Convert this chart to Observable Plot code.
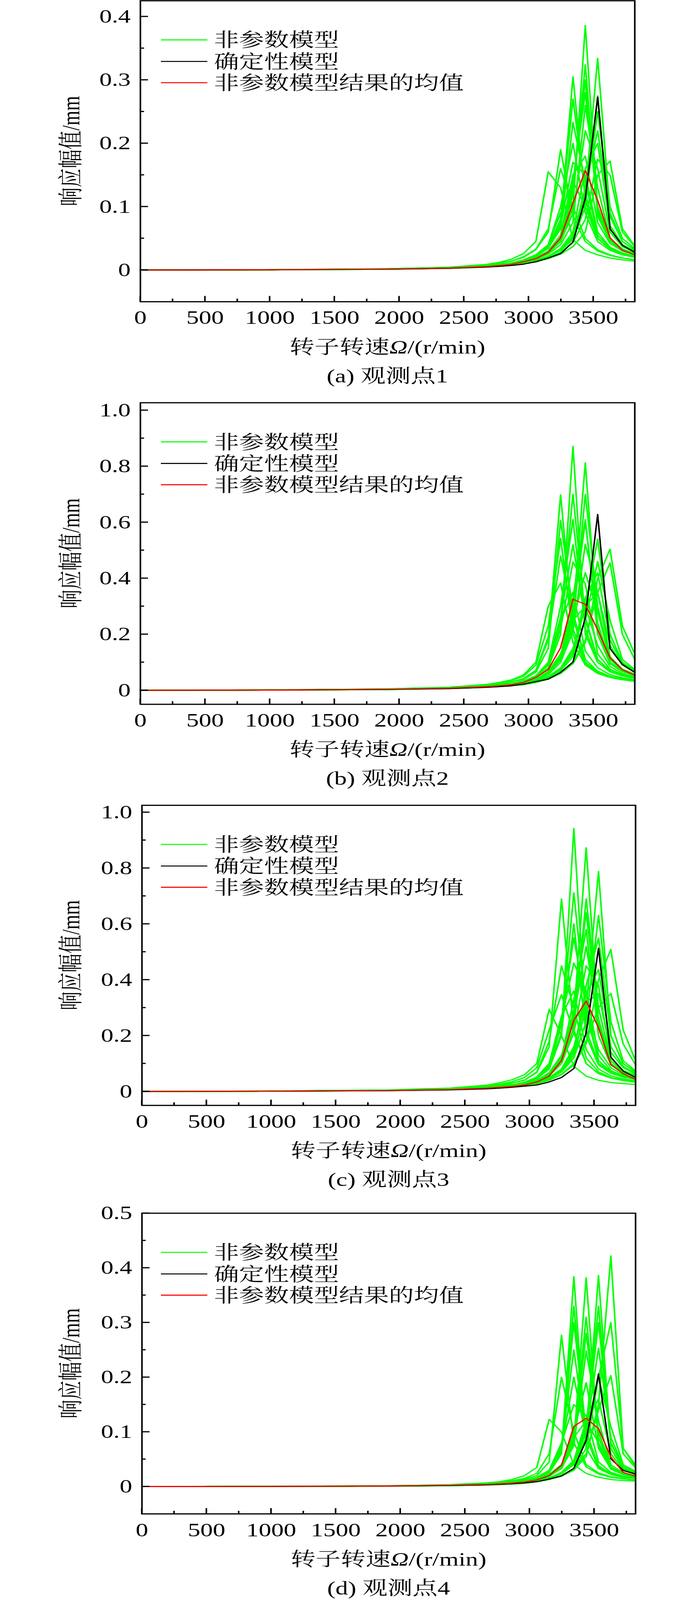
<!DOCTYPE html>
<html>
<head>
<meta charset="utf-8">
<script src="https://cdn.jsdelivr.net/npm/d3@7"></script>
<script src="https://cdn.jsdelivr.net/npm/@observablehq/plot@0.6"></script>
<style>
  html, body { margin: 0; padding: 0; background: #fff; }
  /* the browser viewport is only 4096px tall, so the 5417px-tall figure is fitted vertically */
  #root { position: relative; width: 1772px; height: 5417px; overflow: hidden; background: #fff;
          transform-origin: 0 0; }
</style>
</head>
<body>
<div id="root"></div>
<script>
// ---------- data ----------
// rotor speed samples (r/min)
const rpm = [0, 954.9, 1909.9, 2387.3, 2673.8, 2769.3, 2864.8, 2960.3, 3055.8, 3151.3, 3246.8, 3342.3, 3437.7, 3533.2, 3628.7, 3724.2, 3819.7];

const xMajor = [0, 500, 1000, 1500, 2000, 2500, 3000, 3500];
const xMinor = [250, 750, 1250, 1750, 2250, 2750, 3250, 3750];

const yMajor1 = [0, 0.1, 0.2, 0.3, 0.4];
const yMinor1 = [0.05, 0.15, 0.25, 0.35];
const yMajor2 = [0, 0.2, 0.4, 0.6, 0.8, 1.0];
const yMinor2 = [0.1, 0.3, 0.5, 0.7, 0.9];
const yMajor3 = [0, 0.2, 0.4, 0.6, 0.8, 1.0];
const yMinor3 = [0.1, 0.3, 0.5, 0.7, 0.9];
const yMajor4 = [0, 0.1, 0.2, 0.3, 0.4, 0.5];
const yMinor4 = [0.05, 0.15, 0.25, 0.35, 0.45];

const legendLabels = ["非参数模型", "确定性模型", "非参数模型结果的均值"];
const captions = ["(a) 观测点1", "(b) 观测点2", "(c) 观测点3", "(d) 观测点4"];

// observation point 1
const det1  = [0,.0003,.0013,.0028,.0048,.0058,.0072,.0093,.013,.019,.026,.044,.113,.273,.065,.039,.028];
const mean1 = [0,.0004,.0015,.003,.0055,.007,.009,.013,.018,.028,.051,.106,.157,.110,.051,.031,.024];
const green1 = [
  [0,.0005,.002,.0045,.009,.012,.017,.026,.045,.155,.13,.048,.031,.024,.019,.016,.014],
  [0,.0005,.0019,.0042,.008,.0105,.014,.02,.032,.06,.19,.085,.045,.03,.023,.019,.016],
  [0,.0005,.0019,.0042,.008,.0105,.014,.021,.033,.065,.16,.1,.05,.032,.024,.019,.016],
  [0,.0004,.0017,.0036,.0066,.0085,.011,.016,.024,.038,.075,.305,.11,.05,.033,.025,.021],
  [0,.0004,.0017,.0036,.0066,.0085,.011,.015,.022,.035,.065,.233,.14,.055,.035,.026,.021],
  [0,.0004,.0017,.0036,.0066,.0085,.011,.015,.022,.034,.07,.17,.15,.06,.036,.027,.022],
  [0,.0004,.0017,.0036,.0066,.0085,.011,.016,.024,.04,.1,.2,.09,.045,.031,.024,.02],
  [0,.0004,.0017,.0036,.0066,.0085,.011,.015,.022,.036,.08,.27,.12,.05,.033,.025,.021],
  [0,.0004,.0017,.0036,.0066,.0085,.011,.016,.024,.04,.09,.14,.1,.05,.033,.025,.021],
  [0,.0004,.0015,.0032,.0058,.0073,.0095,.013,.018,.027,.045,.1,.386,.095,.048,.033,.026],
  [0,.0004,.0015,.0032,.0058,.0073,.0095,.013,.019,.028,.047,.12,.324,.085,.045,.031,.025],
  [0,.0004,.0015,.0032,.0058,.0073,.0095,.013,.019,.029,.05,.14,.28,.1,.048,.033,.026],
  [0,.0004,.0015,.0032,.0058,.0073,.0095,.013,.018,.027,.045,.09,.22,.16,.06,.037,.028],
  [0,.0004,.0015,.0032,.0058,.0073,.0095,.014,.02,.03,.055,.15,.18,.075,.042,.03,.024],
  [0,.0004,.0015,.0032,.0058,.0073,.0095,.012,.017,.025,.04,.075,.26,.13,.05,.033,.026],
  [0,.0004,.0015,.0032,.0058,.0073,.0095,.013,.019,.028,.048,.13,.30,.09,.046,.032,.025],
  [0,.0003,.0013,.0028,.0051,.0064,.0082,.011,.015,.022,.033,.055,.12,.334,.09,.045,.032],
  [0,.0003,.0013,.0028,.0051,.0064,.0082,.011,.015,.021,.032,.05,.11,.25,.1,.05,.034],
  [0,.0003,.0013,.0028,.0051,.0064,.0082,.011,.015,.022,.034,.06,.16,.2,.07,.04,.03],
  [0,.0003,.0013,.0028,.0051,.0064,.0082,.01,.014,.019,.028,.044,.08,.175,.15,.06,.037],
  [0,.0003,.0013,.0028,.0051,.0064,.0082,.011,.015,.021,.031,.048,.1,.275,.07,.04,.03],
  [0,.0003,.0013,.0028,.0051,.0064,.0082,.011,.015,.021,.032,.052,.13,.22,.085,.045,.032],
  [0,.0003,.0012,.0026,.0046,.0058,.0074,.01,.013,.018,.025,.037,.06,.15,.172,.065,.038]
];

// observation point 2
const det2  = [0,.0007,.003,.0062,.0105,.013,.016,.022,.031,.040,.064,.101,.259,.628,.149,.092,.064];
const mean2 = [0,.0008,.0035,.0075,.013,.016,.02,.028,.046,.074,.152,.325,.307,.216,.116,.074,.053];
const green2 = [
  [0,.0011,.0045,.0098,.018,.023,.03,.04,.07,.18,.698,.22,.1,.065,.048,.04,.034],
  [0,.0011,.0045,.0098,.018,.023,.03,.038,.065,.15,.607,.28,.11,.068,.05,.041,.035],
  [0,.0012,.0048,.0105,.02,.026,.035,.05,.09,.23,.543,.2,.095,.06,.046,.038,.032],
  [0,.0012,.005,.011,.021,.028,.037,.055,.1,.3,.383,.17,.09,.06,.046,.038,.032],
  [0,.0011,.0045,.0098,.018,.023,.03,.042,.072,.19,.48,.26,.11,.068,.05,.041,.035],
  [0,.001,.004,.0085,.015,.019,.024,.03,.045,.08,.2,.871,.2,.1,.068,.053,.044],
  [0,.001,.004,.0085,.015,.019,.024,.03,.048,.09,.24,.70,.26,.11,.07,.054,.045],
  [0,.001,.004,.0085,.015,.019,.024,.032,.05,.1,.3,.61,.22,.1,.066,.051,.043],
  [0,.001,.004,.0085,.015,.019,.024,.031,.049,.095,.26,.52,.25,.11,.07,.054,.045],
  [0,.001,.004,.0085,.015,.019,.024,.03,.047,.09,.22,.458,.38,.13,.075,.056,.046],
  [0,.001,.004,.0085,.015,.019,.024,.033,.052,.1,.25,.35,.14,.08,.056,.045,.038],
  [0,.0009,.0036,.0076,.013,.0165,.02,.025,.037,.06,.11,.27,.813,.22,.1,.068,.054],
  [0,.0009,.0036,.0076,.013,.0165,.02,.025,.037,.058,.1,.23,.70,.3,.11,.072,.056],
  [0,.0009,.0036,.0076,.013,.0165,.02,.026,.039,.063,.12,.33,.61,.2,.095,.066,.053],
  [0,.0009,.0036,.0076,.013,.0165,.02,.025,.038,.062,.115,.29,.6,.24,.1,.068,.054],
  [0,.0009,.0036,.0076,.013,.0165,.02,.024,.035,.056,.1,.21,.522,.35,.12,.075,.058],
  [0,.0009,.0036,.0076,.013,.0165,.02,.026,.04,.067,.13,.25,.3,.16,.085,.06,.048],
  [0,.0009,.0036,.0076,.013,.0165,.02,.025,.037,.06,.11,.25,.42,.28,.11,.072,.056],
  [0,.0008,.0032,.0068,.0118,.015,.018,.022,.031,.047,.075,.13,.3,.54,.2,.1,.07],
  [0,.0008,.0032,.0068,.0118,.015,.018,.021,.03,.045,.07,.12,.25,.46,.25,.11,.074],
  [0,.0008,.0032,.0068,.0118,.015,.018,.022,.031,.048,.078,.14,.33,.42,.18,.095,.068],
  [0,.0008,.0032,.0068,.0118,.015,.018,.022,.032,.05,.08,.15,.3,.35,.16,.09,.065],
  [0,.0008,.003,.0063,.011,.0138,.0165,.02,.028,.04,.06,.095,.17,.4,.504,.23,.13],
  [0,.0008,.003,.0063,.011,.0138,.0165,.02,.028,.041,.062,.1,.18,.35,.455,.2,.11]
];

// observation point 3
const det3  = [0,.0006,.0027,.0056,.0095,.012,.015,.019,.023,.034,.05,.082,.21,.513,.123,.073,.05];
const mean3 = [0,.0007,.003,.0068,.012,.015,.018,.023,.034,.055,.11,.255,.324,.228,.096,.064,.043];
const green3 = [
  [0,.0013,.0055,.012,.023,.031,.042,.06,.1,.294,.2,.09,.055,.04,.032,.028,.025],
  [0,.0011,.0045,.0098,.018,.023,.03,.04,.068,.16,.69,.22,.1,.064,.048,.039,.033],
  [0,.0012,.0048,.0105,.02,.026,.035,.05,.085,.22,.347,.21,.1,.064,.048,.04,.034],
  [0,.0011,.0045,.0098,.018,.023,.03,.041,.07,.18,.45,.3,.12,.07,.05,.041,.035],
  [0,.001,.004,.0085,.015,.019,.024,.03,.046,.08,.2,.942,.22,.1,.068,.053,.044],
  [0,.001,.004,.0085,.015,.019,.024,.03,.047,.09,.24,.711,.28,.11,.07,.054,.045],
  [0,.001,.004,.0085,.015,.019,.024,.031,.049,.095,.26,.46,.36,.13,.075,.056,.046],
  [0,.001,.004,.0085,.015,.019,.024,.033,.052,.1,.27,.36,.15,.08,.056,.045,.038],
  [0,.001,.004,.0085,.015,.019,.024,.029,.045,.085,.21,.6,.2,.095,.065,.051,.043],
  [0,.001,.004,.0085,.015,.019,.024,.031,.049,.095,.26,.55,.3,.11,.07,.054,.045],
  [0,.0009,.0036,.0076,.013,.0165,.02,.025,.037,.06,.11,.27,.873,.24,.1,.068,.054],
  [0,.0009,.0036,.0076,.013,.0165,.02,.025,.037,.058,.1,.23,.69,.3,.11,.072,.056],
  [0,.0009,.0036,.0076,.013,.0165,.02,.026,.039,.063,.12,.33,.58,.2,.095,.066,.053],
  [0,.0009,.0036,.0076,.013,.0165,.02,.024,.035,.056,.1,.21,.45,.38,.12,.075,.058],
  [0,.0009,.0036,.0076,.013,.0165,.02,.026,.04,.067,.13,.26,.3,.15,.085,.06,.048],
  [0,.0009,.0036,.0076,.013,.0165,.02,.025,.038,.06,.11,.27,.52,.25,.1,.068,.054],
  [0,.0009,.0036,.0076,.013,.0165,.02,.025,.038,.062,.115,.29,.64,.26,.1,.068,.054],
  [0,.0008,.0032,.0068,.0118,.015,.018,.022,.031,.047,.075,.13,.3,.788,.2,.1,.07],
  [0,.0008,.0032,.0068,.0118,.015,.018,.021,.03,.045,.07,.12,.25,.631,.25,.11,.074],
  [0,.0008,.0032,.0068,.0118,.015,.018,.022,.031,.048,.078,.14,.38,.55,.2,.1,.07],
  [0,.0008,.0032,.0068,.0118,.015,.018,.022,.032,.05,.08,.15,.35,.437,.16,.09,.065],
  [0,.0008,.0032,.0068,.0118,.015,.018,.022,.032,.05,.08,.16,.32,.35,.14,.085,.062],
  [0,.0008,.003,.0063,.011,.0138,.0165,.02,.028,.04,.06,.095,.17,.4,.509,.22,.11],
  [0,.0008,.003,.0063,.011,.0138,.0165,.02,.028,.041,.062,.1,.18,.3,.351,.17,.095]
];

// observation point 4
const det4  = [0,.0002,.0009,.002,.0033,.0041,.0052,.0068,.009,.0137,.0194,.0334,.0845,.206,.051,.0295,.023];
const mean4 = [0,.0003,.0011,.0024,.004,.005,.0064,.0085,.012,.02,.039,.11,.125,.106,.054,.026,.019];
const green4 = [
  [0,.0004,.0015,.0034,.0068,.009,.013,.02,.035,.123,.1,.04,.024,.017,.013,.011,.01],
  [0,.0003,.0013,.0029,.0056,.0072,.0097,.013,.02,.045,.277,.08,.036,.023,.017,.014,.012],
  [0,.0003,.0014,.0031,.006,.0078,.0108,.015,.024,.06,.2,.1,.04,.025,.018,.015,.012],
  [0,.0003,.0011,.0024,.0045,.0058,.0075,.01,.015,.025,.06,.384,.07,.033,.022,.017,.015],
  [0,.0003,.0011,.0024,.0045,.0058,.0075,.01,.015,.026,.07,.3,.1,.038,.024,.018,.015],
  [0,.0003,.0011,.0024,.0045,.0058,.0075,.011,.017,.03,.08,.15,.13,.045,.026,.019,.016],
  [0,.0003,.0011,.0024,.0045,.0058,.0075,.01,.016,.028,.075,.25,.09,.036,.023,.018,.015],
  [0,.0003,.0011,.0024,.0045,.0058,.0075,.011,.016,.028,.07,.2,.09,.036,.023,.018,.015],
  [0,.0003,.0011,.0024,.0045,.0058,.0075,.01,.015,.026,.065,.33,.09,.035,.023,.018,.015],
  [0,.0002,.001,.0021,.0038,.0048,.0062,.008,.012,.019,.033,.08,.382,.075,.032,.022,.018],
  [0,.0002,.001,.0021,.0038,.0048,.0062,.008,.012,.019,.033,.075,.248,.12,.04,.025,.02],
  [0,.0002,.001,.0021,.0038,.0048,.0062,.009,.013,.021,.037,.1,.19,.07,.032,.022,.018],
  [0,.0002,.001,.0021,.0038,.0048,.0062,.008,.012,.02,.035,.09,.31,.09,.035,.023,.019],
  [0,.0002,.001,.0021,.0038,.0048,.0062,.008,.012,.019,.034,.085,.28,.1,.036,.024,.019],
  [0,.0002,.001,.0021,.0038,.0048,.0062,.009,.014,.022,.04,.09,.12,.08,.035,.023,.018],
  [0,.0002,.0009,.0019,.0034,.0043,.0055,.007,.01,.015,.023,.04,.09,.386,.07,.032,.024],
  [0,.0002,.0009,.0019,.0034,.0043,.0055,.007,.01,.015,.024,.042,.1,.253,.09,.037,.026],
  [0,.0002,.0009,.0019,.0034,.0043,.0055,.007,.011,.016,.026,.048,.12,.16,.06,.03,.022],
  [0,.0002,.0009,.0019,.0034,.0043,.0055,.007,.01,.015,.024,.045,.11,.3,.08,.034,.025],
  [0,.0002,.0009,.0019,.0034,.0043,.0055,.007,.01,.015,.024,.044,.11,.33,.08,.034,.025],
  [0,.0002,.0009,.0019,.0034,.0043,.0055,.007,.01,.016,.025,.045,.1,.2,.11,.04,.028],
  [0,.0002,.0008,.0017,.003,.0038,.0048,.006,.009,.013,.019,.03,.055,.15,.422,.07,.04],
  [0,.0002,.0008,.0017,.003,.0038,.0048,.006,.009,.013,.02,.032,.07,.2,.3,.07,.036],
  [0,.0002,.0008,.0017,.003,.0038,.0048,.006,.009,.013,.02,.032,.06,.14,.203,.06,.034]
];

// ---------- layout / style ----------
const FONT = "'Liberation Serif', 'Times New Roman', 'Noto Serif CJK SC', 'Source Han Serif SC', SimSun, 'Noto Sans CJK SC', serif";
const FS = 64;
const GREEN = "#00ff00", BLACK = "#000000", RED = "#ff0000";
const W = 1772, H = 5417;

const panels = [
  {green: green1, det: det1, mean: mean1, yDomain: [-0.05, 0.425], yMajor: yMajor1, yMinor: yMinor1, top: 0,    mt: 2,  fh: 1019, mb: 300, ml: 359, mr: 147},
  {green: green2, det: det2, mean: mean2, yDomain: [-0.05, 1.027], yMajor: yMajor2, yMinor: yMinor2, top: 1323, mt: 40, fh: 1021, mb: 300, ml: 359, mr: 147},
  {green: green3, det: det3, mean: mean3, yDomain: [-0.05, 1.025], yMajor: yMajor3, yMinor: yMinor3, top: 2686, mt: 40, fh: 1016, mb: 300, ml: 363, mr: 145},
  {green: green4, det: det4, mean: mean4, yDomain: [-0.05, 0.5],   yMajor: yMajor4, yMinor: yMinor4, top: 4067, mt: 40, fh: 1018, mb: 290, ml: 363, mr: 145}
];

const root = document.getElementById("root");
// fit the full figure into the visible viewport height
const vh = window.innerHeight || H;
const sY = Math.min(1, vh / H);
root.style.transform = `scale(1, ${sY})`;

panels.forEach((p, pi) => {
  const greenRows = [];
  p.green.forEach((s, i) => s.forEach((v, j) => greenRows.push({x: rpm[j], y: v, id: i})));
  const detRows = p.det.map((v, j) => ({x: rpm[j], y: v}));
  const meanRows = p.mean.map((v, j) => ({x: rpm[j], y: v}));
  const fmt = d => d === 0 ? "0" : d.toFixed(1);

  const plot = Plot.plot({
    width: W,
    height: p.mt + p.fh + p.mb,
    marginTop: p.mt, marginBottom: p.mb, marginLeft: p.ml, marginRight: p.mr,
    x: {domain: [0, 3820], label: null},
    y: {domain: p.yDomain, label: null},
    style: {fontFamily: FONT, fontSize: FS + "px", background: "white", color: "black", overflow: "visible"},
    marks: [
      Plot.line(greenRows, {x: "x", y: "y", z: "id", stroke: GREEN, strokeWidth: 4}),
      Plot.line(detRows, {x: "x", y: "y", stroke: BLACK, strokeWidth: 3.8}),
      Plot.line(meanRows, {x: "x", y: "y", stroke: RED, strokeWidth: 3.5}),
      Plot.frame({stroke: BLACK, strokeWidth: 4}),
      Plot.axisX(xMajor, {tickSize: 0, tickPadding: 30, tickFormat: d => String(d), fontSize: FS, fontFamily: FONT, fill: "black", label: null}),
      Plot.axisY(p.yMajor, {tickSize: 0, tickPadding: 25, tickFormat: fmt, fontSize: FS, fontFamily: FONT, fill: "black", label: null})
    ]
  });

  const sx = plot.scale("x"), sy = plot.scale("y");
  const svg = d3.select(plot)
    .style("position", "absolute").style("left", "0px").style("top", p.top + "px")
    .style("max-width", "none");

  const yb = p.mt + p.fh;       // frame bottom
  const xl = p.ml;              // frame left
  const xr = W - p.mr;          // frame right
  const xc = (xl + xr) / 2;

  // inward ticks, placed through the plot's scales
  const tg = svg.append("g").attr("stroke", BLACK).attr("stroke-width", 4);
  xMajor.forEach(v => tg.append("line").attr("x1", sx.apply(v)).attr("x2", sx.apply(v)).attr("y1", yb).attr("y2", yb - 19));
  xMinor.forEach(v => tg.append("line").attr("x1", sx.apply(v)).attr("x2", sx.apply(v)).attr("y1", yb).attr("y2", yb - 10));
  p.yMajor.forEach(v => tg.append("line").attr("x1", xl).attr("x2", xl + 20).attr("y1", sy.apply(v)).attr("y2", sy.apply(v)));
  p.yMinor.forEach(v => tg.append("line").attr("x1", xl).attr("x2", xl + 10).attr("y1", sy.apply(v)).attr("y2", sy.apply(v)));

  const tx = svg.append("g").attr("font-family", FONT).attr("font-size", FS).attr("fill", "black");

  // y-axis label
  tx.append("text")
    .attr("transform", `translate(181,${p.mt + p.fh / 2}) rotate(-90)`)
    .attr("text-anchor", "middle").attr("dy", "0.35em")
    .text("响应幅值/mm");

  // x-axis label with italic Omega
  const xt = tx.append("text").attr("x", xc).attr("y", yb + 153).attr("text-anchor", "middle").attr("dy", "0.35em");
  xt.append("tspan").text("转子转速");
  xt.append("tspan").attr("font-style", "italic").text("Ω");
  xt.append("tspan").text("/(r/min)");

  // caption
  tx.append("text").attr("x", xc).attr("y", yb + 251).attr("text-anchor", "middle").attr("dy", "0.35em")
    .text(captions[pi]);

  // legend
  const colors = [GREEN, BLACK, RED];
  const rowsY = [133, 206, 278];
  legendLabels.forEach((lab, i) => {
    const yy = p.mt + rowsY[i];
    svg.append("line").attr("x1", 412).attr("x2", 531).attr("y1", yy).attr("y2", yy)
      .attr("stroke", colors[i]).attr("stroke-width", 3.5);
    tx.append("text").attr("x", 548).attr("y", yy).attr("dy", "0.36em")
      .attr("text-anchor", "start").text(lab);
  });

  root.appendChild(plot);
});
</script>
</body>
</html>
